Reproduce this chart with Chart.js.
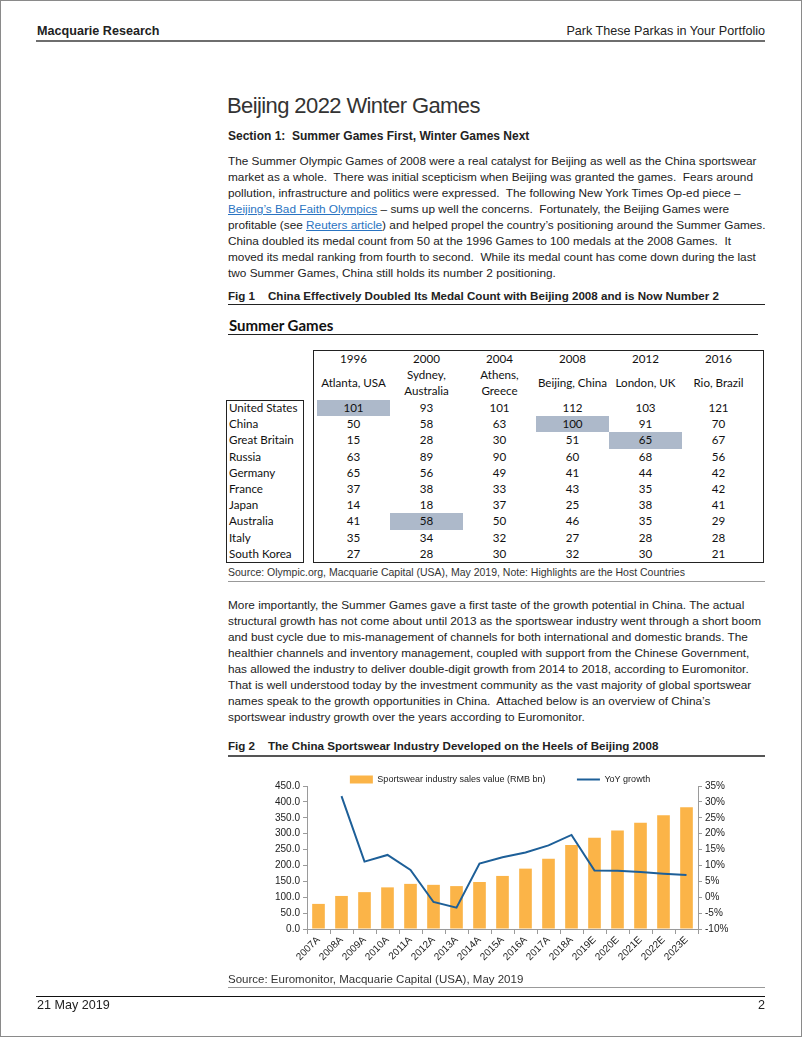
<!DOCTYPE html>
<html>
<head>
<meta charset="utf-8">
<script src="https://cdn.jsdelivr.net/npm/chart.js@4.4.1/dist/chart.umd.min.js"></script>
<style>
  html, body { margin: 0; padding: 0; background: #fff; }
  body { width: 802px; height: 1037px; position: relative; overflow: hidden; font-family: "Liberation Sans", Arial, sans-serif; color: #222; }
  .frame { position: absolute; left: 0; top: 0; width: 800px; height: 1035px; border: 1px solid #8a8a8a; }
  .abs { position: absolute; white-space: pre; }
  .narrow { font-family: "Liberation Sans Narrow", "Arial Narrow", "Liberation Sans", sans-serif; }
  .rule { position: absolute; height: 0; }
  .body-text { left: 228px; font-size: 11.8px; line-height: 16px; }
  .body-text a { color: #2a74c2; text-decoration: underline; }
  .cap { left: 228px; font-size: 11.6px; font-weight: bold; color: #222; }
  .tbl { font-family: Lato, "Open Sans", sans-serif; font-size: 11.6px; color: #111; }
  .cell { position: absolute; text-align: center; line-height: 16px; }
</style>
</head>
<body>
<div class="frame"></div>

<div class="abs narrow" style="left:37px; top:24px; font-size:12.6px; font-weight:bold;">Macquarie Research</div>
<div class="abs narrow" style="right:37px; top:24px; font-size:12.6px;">Park These Parkas in Your Portfolio</div>
<div class="rule" style="left:36px; top:40px; width:729px; border-top:2px solid #6e6e6e;"></div>

<div class="abs" style="left:227px; top:93px; font-size:22px; letter-spacing:-0.6px; color:#333;">Beijing 2022 Winter Games</div>
<div class="abs" style="left:228px; top:129px; font-size:12px; font-weight:bold;">Section 1:  Summer Games First, Winter Games Next</div>

<div class="abs body-text" style="top:153px;">The Summer Olympic Games of 2008 were a real catalyst for Beijing as well as the China sportswear
market as a whole.  There was initial scepticism when Beijing was granted the games.  Fears around
pollution, infrastructure and politics were expressed.  The following New York Times Op-ed piece –
<a>Beijing’s Bad Faith Olympics</a> – sums up well the concerns.  Fortunately, the Beijing Games were
profitable (see <a>Reuters article</a>) and helped propel the country’s positioning around the Summer Games.
China doubled its medal count from 50 at the 1996 Games to 100 medals at the 2008 Games.  It
moved its medal ranking from fourth to second.  While its medal count has come down during the last
two Summer Games, China still holds its number 2 positioning.</div>

<div class="abs cap" style="top:289px;">Fig 1    China Effectively Doubled Its Medal Count with Beijing 2008 and is Now Number 2</div>
<div class="rule" style="left:228px; top:304px; width:537px; border-top:1px solid #222;"></div>

<div class="abs tbl" style="left:229px; top:316px; font-size:15px; font-weight:bold; color:#111;">Summer Games</div>
<div class="rule" style="left:228px; top:334px; width:530px; border-top:1px solid #222;"></div>

<div id="medalTable" class="tbl"></div>

<div class="abs" style="left:228px; top:566px; font-size:10.5px; color:#333;">Source: Olympic.org, Macquarie Capital (USA), May 2019, Note: Highlights are the Host Countries</div>
<div class="rule" style="left:228px; top:581px; width:537px; border-top:1px solid #999;"></div>

<div class="abs body-text" style="top:597px;">More importantly, the Summer Games gave a first taste of the growth potential in China. The actual
structural growth has not come about until 2013 as the sportswear industry went through a short boom
and bust cycle due to mis-management of channels for both international and domestic brands. The
healthier channels and inventory management, coupled with support from the Chinese Government,
has allowed the industry to deliver double-digit growth from 2014 to 2018, according to Euromonitor.
That is well understood today by the investment community as the vast majority of global sportswear
names speak to the growth opportunities in China.  Attached below is an overview of China’s
sportswear industry growth over the years according to Euromonitor.</div>

<div class="abs cap" style="top:739px;">Fig 2    The China Sportswear Industry Developed on the Heels of Beijing 2008</div>
<div class="rule" style="left:228px; top:755px; width:537px; border-top:2px solid #555;"></div>

<div style="position:absolute; left:228px; top:773px; width:537px; height:204px;">
  <canvas id="chart"></canvas>
</div>

<div class="abs narrow" style="left:228px; top:973px; font-size:11.5px; color:#333;">Source: Euromonitor, Macquarie Capital (USA), May 2019</div>
<div class="rule" style="left:228px; top:987px; width:537px; border-top:1px solid #999;"></div>
<div class="rule" style="left:36px; top:996px; width:729px; border-top:1px solid #111;"></div>
<div class="abs narrow" style="left:37px; top:998px; font-size:12.6px;">21 May 2019</div>
<div class="abs narrow" style="right:37px; top:998px; font-size:12.6px;">2</div>

<script>
// medal table (Fig 1)
const gameYears = ["1996", "2000", "2004", "2008", "2012", "2016"];
const hostCities = ["Atlanta, USA", "Sydney,\nAustralia", "Athens,\nGreece", "Beijing, China", "London, UK", "Rio, Brazil"];
const countries = ["United States", "China", "Great Britain", "Russia", "Germany", "France", "Japan", "Australia", "Italy", "South Korea"];
const medals = [
  [101, 93, 101, 112, 103, 121],
  [50, 58, 63, 100, 91, 70],
  [15, 28, 30, 51, 65, 67],
  [63, 89, 90, 60, 68, 56],
  [65, 56, 49, 41, 44, 42],
  [37, 38, 33, 43, 35, 42],
  [14, 18, 37, 25, 38, 41],
  [41, 58, 50, 46, 35, 29],
  [35, 34, 32, 27, 28, 28],
  [27, 28, 30, 32, 30, 21]
];
const hostCells = [[0, 0], [7, 1], [1, 3], [2, 4]]; // [row, col]

// chart data (Fig 2)
const years = ["2007A", "2008A", "2009A", "2010A", "2011A", "2012A", "2013A", "2014A", "2015A",
  "2016A", "2017A", "2018A", "2019E", "2020E", "2021E", "2022E", "2023E"];
const salesValue = [79, 104, 116, 131, 142, 139, 135, 148, 167, 190, 221, 264, 287, 310, 334, 358, 383];
const yoyGrowth = [null, 31.8, 11.2, 13.3, 8.6, -1.5, -3.3, 10.6, 12.6, 14.1, 16.3, 19.6, 8.4, 8.3, 7.9, 7.4, 7.0];

function buildTable() {
  const t = document.getElementById("medalTable");
  let html = "";
  const colX = 317, colW = 73, rowY = 400, rowH = 16.2;
  html += '<div style="position:absolute;left:313px;top:350px;width:449px;height:211px;border:1px solid #222;"></div>';
  html += '<div style="position:absolute;left:226px;top:400px;width:76px;height:161px;border:1px solid #222;"></div>';
  hostCells.forEach(([r, c]) => {
    html += `<div style="position:absolute;left:${colX + c * colW}px;top:${rowY + r * rowH}px;width:${colW}px;height:${rowH}px;background:#adb9ca;"></div>`;
  });
  gameYears.forEach((y, c) => {
    html += `<div class="cell" style="left:${colX + c * colW}px;top:351px;width:${colW}px;">${y}</div>`;
    const lines = hostCities[c].split("\n");
    const top = lines.length > 1 ? 367 : 375;
    html += `<div class="cell" style="left:${colX + c * colW}px;top:${top}px;width:${colW}px;white-space:pre;">${hostCities[c]}</div>`;
  });
  countries.forEach((name, r) => {
    html += `<div class="cell" style="left:229px;top:${rowY + r * rowH}px;text-align:left;">${name}</div>`;
    medals[r].forEach((v, c) => {
      html += `<div class="cell" style="left:${colX + c * colW}px;top:${rowY + r * rowH}px;width:${colW}px;">${v}</div>`;
    });
  });
  t.innerHTML = html;
}
buildTable();

const axisGrey = "#9a9a9a";
const tickFont = { family: "Liberation Sans, Arial, sans-serif", size: 10 };

// keep the legend snug against the plot (Chart.js adds 10px below it)
const tightLegend = {
  id: "tightLegend",
  beforeLayout(chart) {
    const lg = chart.legend;
    if (lg && !lg._tight) {
      const fit = lg.fit;
      lg.fit = function () { fit.call(this); this.height = 13; };
      lg._tight = true;
    }
  }
};

new Chart(document.getElementById("chart"), {
  plugins: [tightLegend],
  data: {
    labels: years,
    datasets: [
      {
        type: "bar",
        label: "Sportswear industry sales value (RMB bn)",
        data: salesValue,
        backgroundColor: "#fbb448",
        borderWidth: 0,
        barPercentage: 0.55,
        categoryPercentage: 1,
        pointStyle: "rect",
        yAxisID: "y",
        order: 2
      },
      {
        type: "line",
        label: "YoY growth",
        data: yoyGrowth,
        borderColor: "#1d5f98",
        backgroundColor: "#1d5f98",
        borderWidth: 2,
        pointRadius: 0,
        pointStyle: "line",
        tension: 0,
        yAxisID: "y1",
        order: 1
      }
    ]
  },
  options: {
    responsive: true,
    maintainAspectRatio: false,
    animation: false,
    layout: { padding: { left: 7, right: 0, top: 0, bottom: 0 } },
    plugins: {
      tooltip: { enabled: false },
      legend: {
        position: "top",
        labels: {
          usePointStyle: true,
          pointStyleWidth: 23,
          boxHeight: 8,
          padding: 2,
          color: "#222",
          font: { family: "Liberation Sans, Arial, sans-serif", size: 9 },
          sort: (a, b) => a.datasetIndex - b.datasetIndex,
          generateLabels: (chart) => {
            const items = Chart.defaults.plugins.legend.labels.generateLabels(chart);
            // invisible spacer item to widen the gap between the two entries
            items.push({
              text: "", datasetIndex: 0.5, hidden: false, pointStyle: "line",
              fillStyle: "rgba(0,0,0,0)", strokeStyle: "rgba(0,0,0,0)", lineWidth: 0
            });
            return items;
          }
        }
      }
    },
    scales: {
      x: {
        offset: true,
        grid: { display: true, offset: true, drawOnChartArea: false, drawTicks: true, tickLength: 5, color: axisGrey },
        border: { color: axisGrey },
        ticks: { minRotation: 45, maxRotation: 45, color: "#222", font: tickFont, padding: 0, autoSkip: false },
        afterFit: (s) => { s.height = 48; }
      },
      y: {
        position: "left",
        min: 0,
        max: 450,
        grid: { drawOnChartArea: false, tickLength: 4, color: axisGrey },
        border: { color: axisGrey },
        ticks: { stepSize: 50, autoSkip: false, color: "#222", font: tickFont, padding: 3, callback: (v) => v.toFixed(1) },
        afterFit: (s) => { s.width = 72; }
      },
      y1: {
        position: "right",
        min: -10,
        max: 35,
        grid: { drawOnChartArea: false, tickLength: 4, color: axisGrey },
        border: { color: axisGrey },
        ticks: { stepSize: 5, autoSkip: false, color: "#222", font: tickFont, padding: 3, callback: (v) => v + "%" },
        afterFit: (s) => { s.width = 67; }
      }
    }
  }
});
</script>
</body>
</html>
